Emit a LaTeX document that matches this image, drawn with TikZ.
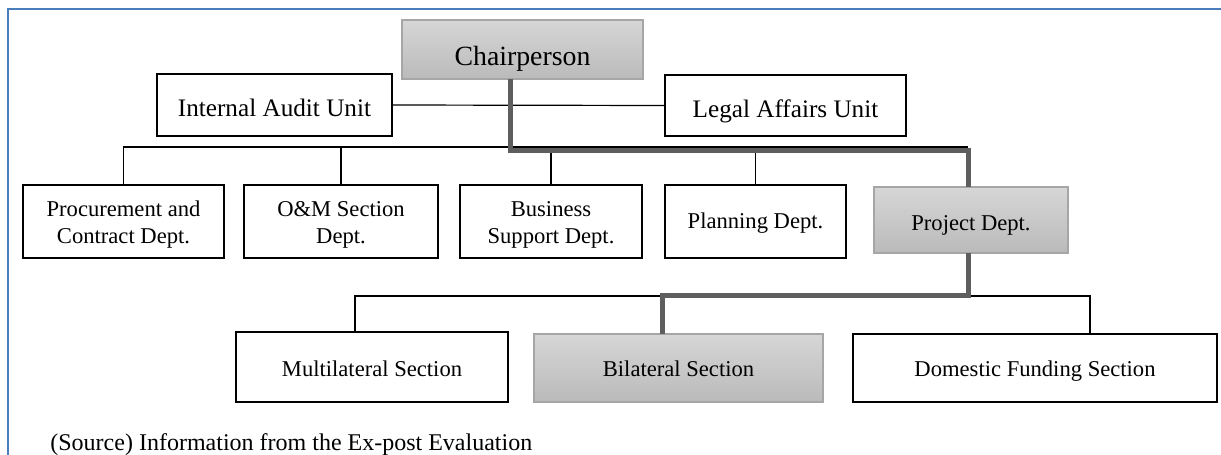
\documentclass[tikz,border=0pt]{standalone}
\usepackage{fontspec}
\setmainfont{Liberation Serif}
\usetikzlibrary{calc}
\definecolor{framblue}{HTML}{4A7EBB}
\definecolor{thickgray}{HTML}{5E5E5E}
\definecolor{grayborder}{HTML}{A6A6A6}
\begin{document}
\begin{tikzpicture}[x=0.5pt,y=-0.5pt,
  box/.style={draw, line width=0.6pt, inner sep=0pt, outer sep=0pt, align=center},
  hibox/.style={box, draw=grayborder, top color=black!16, bottom color=black!27},
  sz/.style 2 args={minimum width=#1*0.5pt, minimum height=#2*0.5pt},
  bl/.style={text height=#1, text depth=0pt},
  two/.style={text height=22pt, text depth=0pt},
  fchair/.style={font=\fontsize{13.9}{16}\selectfont},
  funit/.style={font=\fontsize{12.6}{15}\selectfont},
  frow/.style={font=\fontsize{11.3}{13.7}\selectfont},
  fsrc/.style={font=\fontsize{12}{14}\selectfont},
  conn/.style={line width=0.6pt, black},
  mainline/.style={line width=2.5pt, thickgray},
  fr/.style={line width=1.3pt, framblue}]
\useasboundingbox (0,0) rectangle (1221,455);
\draw[fr] (8,455) -- (8,9) -- (1221,9);

% nodes
\node[hibox, sz={241}{59}, fchair, bl=15.5pt] (chair) at (522.5,49.5) {Chairperson};
\node[box, sz={235}{62}, funit, bl=11.5pt] (ia) at (274.5,105) {Internal Audit Unit};
\node[box, sz={241}{61}, funit, bl=12pt] (la) at (785.5,105.5) {Legal Affairs Unit};

\node[box, sz={201}{73}, frow, two] (proc) at (123.5,221.5) {Procurement and\\Contract Dept.};
\node[box, sz={194}{73}, frow, two] (om) at (341,221.5) {O\&M Section\\Dept.};
\node[box, sz={182}{73}, frow, two] (busi) at (551,221.5) {Business\\Support Dept.};
\node[box, sz={181}{73}, frow, bl=6.5pt] (plan) at (755.5,221.5) {Planning Dept.};
\node[hibox, sz={194}{66}, frow, bl=10pt] (proj) at (971,220) {Project Dept.};

\node[box, sz={272}{70}, frow, bl=9.7pt] (multi) at (372,367) {Multilateral Section};
\node[hibox, sz={289}{68}, frow, bl=8.7pt] (bil) at (678.5,368) {Bilateral Section};
\node[box, sz={364}{68}, frow, bl=8.5pt] (dom) at (1035,368) {Domestic Funding Section};

\node[anchor=base west, inner sep=0pt, fsrc] (src) at (50,450) {(Source) Information from the Ex-post Evaluation};

% helper coordinates
\coordinate (busL) at (124,147);
\coordinate (busR) at (968,147);
\coordinate (t1) at (968,150);
\coordinate (t2) at (662,295);
\coordinate (b3L) at (355,296);
\coordinate (b3R) at (1090,296);

% thin connectors
\draw[conn] (ia.east) -- (la.west);
\draw[conn] (proc.north) |- (busR);
\draw[conn] (om.north) -- (om.north |- busL);
\draw[conn] (busi.north) -- (busi.north |- busL);
\draw[conn] (plan.north) -- (plan.north |- busL);
\draw[conn] (multi.north -| b3L) |- (b3R) -- (b3R |- dom.north);

% highlighted path
\draw[mainline] ([xshift=-6.25pt]chair.south) |- (t1) -- (t1 |- proj.north);
\draw[mainline] ([xshift=-1.5pt]proj.south) |- (t2) -- (t2 |- bil.north);
\end{tikzpicture}
\end{document}
